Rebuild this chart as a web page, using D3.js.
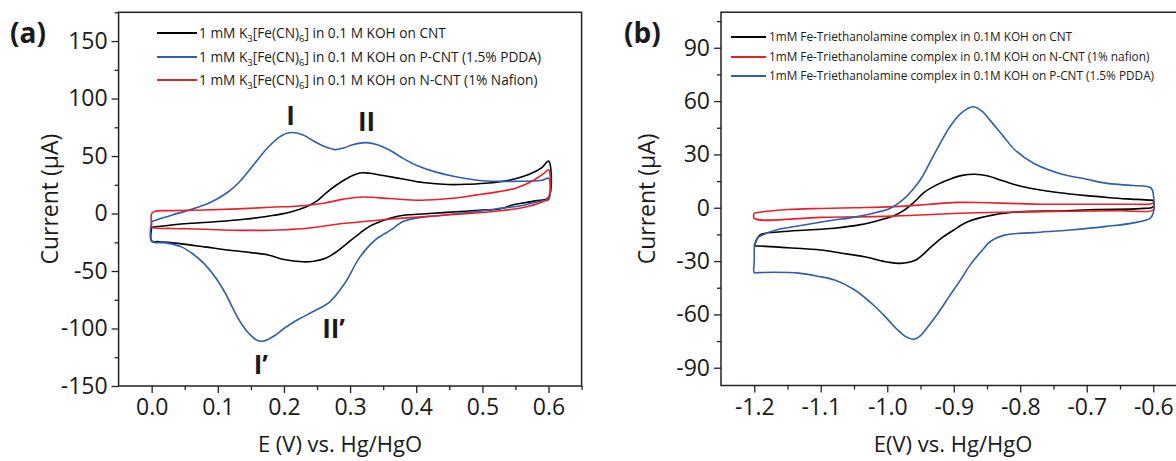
<!DOCTYPE html>
<html><head><meta charset="utf-8">
<script src="https://cdn.jsdelivr.net/npm/d3@7"></script>
<style>
body{margin:0;background:#fff}
svg{display:block}
text{font-family:"Open Sans","Noto Sans",sans-serif;fill:#1a1a1a}
</style>
</head><body>
<svg id="c" width="1176" height="461"></svg>
<script>
// ---------- Panel (a) data: [E (V), I (µA)] ----------
const aCNT = [[0.0,-12],[0.03,-10],[0.06,-8.5],[0.1,-7],[0.14,-5],[0.18,-2],[0.21,1.4],[0.233,5.7],[0.25,11],[0.263,17.6],[0.28,25],[0.3,32],[0.315,35.3],[0.33,35],[0.35,33],[0.38,30],[0.41,27],[0.448,25.2],[0.48,25.5],[0.51,26.5],[0.54,29],[0.57,34],[0.59,40],[0.6,45.7],
  [0.6,14],[0.58,11],[0.55,8],[0.523,3.7],[0.5,3],[0.46,1.5],[0.42,0],[0.39,-1],[0.372,-2.3],[0.35,-6],[0.33,-11],[0.315,-17],[0.292,-27.6],[0.275,-35],[0.263,-39],[0.245,-41.5],[0.228,-42],[0.2,-40],[0.176,-36],[0.15,-34],[0.118,-32],[0.08,-29],[0.04,-26],[0.01,-24.5],[0.0,-24],[0.0,-12]];
const aPCNT = [[0.0,-7],[0.03,-1.5],[0.06,3.6],[0.09,10],[0.115,18.5],[0.135,29],[0.155,43],[0.175,57],[0.193,66.5],[0.21,70.4],[0.228,68.5],[0.248,62],[0.265,57.5],[0.277,55.6],[0.29,57],[0.305,60],[0.324,61.7],[0.34,60],[0.36,55],[0.38,48],[0.4,42],[0.43,36],[0.46,32],[0.5,28.5],[0.55,28],[0.59,29],[0.6,30.6],
  [0.6,12],[0.59,11],[0.56,7],[0.52,4],[0.48,1],[0.44,-1.5],[0.4,-4],[0.38,-7],[0.361,-14.5],[0.338,-23],[0.315,-37.7],[0.292,-60.6],[0.269,-77],[0.245,-85],[0.222,-92],[0.2,-100],[0.185,-106.5],[0.17,-110.8],[0.16,-110.5],[0.148,-105],[0.137,-97],[0.125,-85],[0.112,-70],[0.097,-56],[0.08,-44],[0.062,-35],[0.045,-29],[0.022,-25.5],[0.0,-24],[0.0,-7]];
const aNCNT = [[0.0,-10],[0.0,0],[0.005,2],[0.03,2.5],[0.08,3],[0.13,4],[0.18,5.5],[0.222,6.6],[0.26,9],[0.29,12.5],[0.32,14.4],[0.36,13],[0.407,11.5],[0.45,13],[0.49,16],[0.523,18.8],[0.55,22],[0.575,28],[0.593,35],[0.6,38],
  [0.6,14],[0.59,10],[0.56,5],[0.52,2],[0.48,0],[0.43,-2],[0.38,-4],[0.33,-6.5],[0.292,-8.5],[0.26,-11],[0.22,-13.5],[0.18,-14.5],[0.12,-14.5],[0.07,-13.5],[0.03,-13],[0.0,-12],[0.0,-10]];

// ---------- Panel (b) data ----------
const bCNT = [[-1.2,-21.5],[-1.195,-17],[-1.19,-15],[-1.16,-13.5],[-1.12,-12.5],[-1.08,-11.5],[-1.04,-9.5],[-1.012,-7],[-0.99,-4.5],[-0.975,-1.5],[-0.96,3],[-0.945,8.5],[-0.925,13],[-0.905,16.2],[-0.887,18.2],[-0.868,18.8],[-0.85,18],[-0.825,15],[-0.796,11.8],[-0.77,10],[-0.741,8.4],[-0.7,6.8],[-0.669,5.8],[-0.64,5],[-0.606,4.3],[-0.6,4],
  [-0.6,0.6],[-0.62,-0.5],[-0.686,-1],[-0.74,-1.8],[-0.796,-2.2],[-0.84,-4],[-0.879,-7.9],[-0.9,-12.5],[-0.918,-17],[-0.934,-22],[-0.957,-29.4],[-0.981,-31.3],[-1.0,-30.5],[-1.034,-27.6],[-1.07,-25.5],[-1.1,-23.8],[-1.15,-22.5],[-1.194,-21.5],[-1.2,-21.5]];
const bNCNT = [[-1.2,-3],[-1.18,-2],[-1.15,-1],[-1.1,-0.4],[-1.05,0],[-0.99,0.6],[-0.94,1.8],[-0.895,3],[-0.85,2.8],[-0.8,2.3],[-0.769,2],[-0.7,2],[-0.65,2],[-0.606,2],[-0.6,2.5],
  [-0.6,-1.3],[-0.65,-1.6],[-0.769,-2.2],[-0.879,-3],[-0.99,-4.7],[-1.1,-5.4],[-1.2,-6],[-1.2,-3]];
const bPCNT = [[-1.2,-22],[-1.195,-17],[-1.188,-15.4],[-1.167,-12.5],[-1.13,-10],[-1.09,-7.5],[-1.045,-5],[-1.015,-2.5],[-0.996,-0.4],[-0.978,4],[-0.962,10],[-0.948,17],[-0.934,26.8],[-0.92,36.5],[-0.905,46],[-0.888,53.5],[-0.871,56.8],[-0.858,54.5],[-0.845,49],[-0.825,40],[-0.808,32.5],[-0.78,25],[-0.741,19.3],[-0.7,16],[-0.669,13.7],[-0.63,12.5],[-0.61,12],[-0.603,11],
  [-0.6,8],[-0.6,-3],[-0.605,-6],[-0.63,-8.5],[-0.67,-10.5],[-0.724,-12.5],[-0.78,-14],[-0.824,-15.4],[-0.845,-19],[-0.857,-23.8],[-0.875,-32],[-0.89,-40.7],[-0.907,-50],[-0.924,-59.5],[-0.94,-67.5],[-0.95,-72],[-0.96,-74],[-0.972,-72.5],[-0.985,-68.5],[-1.0,-62.5],[-1.02,-55],[-1.05,-46],[-1.079,-40.7],[-1.105,-38.5],[-1.133,-36.8],[-1.17,-36.3],[-1.194,-36.5],[-1.2,-36.5],[-1.2,-30],[-1.2,-22]];

// ---------- ticks & labels ----------
const aXTicks = [0,0.1,0.2,0.3,0.4,0.5,0.6];
const aXMinor = [0.05,0.15,0.25,0.35,0.45,0.55,0.65];
const aYTicks = [-150,-100,-50,0,50,100,150];
const aYMinor = [-125,-75,-25,25,75,125,175];
const bXTicks = [-1.2,-1.1,-1.0,-0.9,-0.8,-0.7,-0.6];
const bXMinor = [-1.15,-1.05,-0.95,-0.85,-0.75,-0.65];
const bYTicks = [-90,-60,-30,0,30,60,90];
const bYMinor = [-75,-45,-15,15,45,75,105];

const aLegend = [
  [["1 mM K"],["3","sub"],["[Fe(CN)"],["6","sub"],["] in 0.1 M KOH on CNT"]],
  [["1 mM K"],["3","sub"],["[Fe(CN)"],["6","sub"],["] in 0.1 M KOH on P-CNT (1.5% PDDA)"]],
  [["1 mM K"],["3","sub"],["[Fe(CN)"],["6","sub"],["] in 0.1 M KOH on N-CNT (1% Nafion)"]]
];
const bLegend = [
  "1mM Fe-Triethanolamine complex in 0.1M KOH on CNT",
  "1mM Fe-Triethanolamine complex in 0.1M KOH on N-CNT (1% nafion)",
  "1mM Fe-Triethanolamine complex in 0.1M KOH on P-CNT (1.5% PDDA)"
];
const peakLabels = [["I",0.21,85],["II",0.325,80],["II\u2019",0.275,-100],["I\u2019",0.165,-132]];

const BLACK="#000000", BLUE="#2f5eab", RED="#e8202a";

const svg = d3.select("#c");

function panel(cfg){
  const g = svg.append("g");
  const x = d3.scaleLinear().domain(cfg.xd).range(cfg.xr);
  const y = d3.scaleLinear().domain(cfg.yd).range(cfg.yr);
  g.append("g").attr("transform",`translate(0,${cfg.yr[0]})`)
    .call(d3.axisBottom(x).tickValues(cfg.xt).tickFormat(d=>d.toFixed(1)).tickSize(7).tickSizeOuter(0).tickPadding(6));
  g.append("g").attr("transform",`translate(0,${cfg.yr[0]})`)
    .call(d3.axisBottom(x).tickValues(cfg.xm).tickFormat("").tickSize(4).tickSizeOuter(0));
  g.append("g").attr("transform",`translate(${cfg.xr[0]},0)`)
    .call(d3.axisLeft(y).tickValues(cfg.yt).tickFormat(d=>String(d)).tickSize(7).tickSizeOuter(0).tickPadding(4));
  g.append("g").attr("transform",`translate(${cfg.xr[0]},0)`)
    .call(d3.axisLeft(y).tickValues(cfg.ym).tickFormat("").tickSize(4).tickSizeOuter(0));
  g.selectAll(".domain").remove();
  g.selectAll(".tick line").attr("stroke","#222").attr("stroke-width",1.3);
  g.selectAll(".tick text").attr("font-size",23).attr("font-family","'Open Sans',sans-serif").attr("fill","#2a2a2a").attr("font-weight",400);
  g.append("rect").attr("x",cfg.xr[0]).attr("y",cfg.yr[1]).attr("width",cfg.xr[1]-cfg.xr[0]).attr("height",cfg.yr[0]-cfg.yr[1])
    .attr("fill","none").attr("stroke","#222").attr("stroke-width",1.5);
  const line = d3.line().x(d=>x(d[0])).y(d=>y(d[1])).curve(d3.curveCatmullRom.alpha(0.5));
  cfg.series.forEach(s=>{
    g.append("path").datum(s.data).attr("d",line).attr("fill","none").attr("stroke",s.color).attr("stroke-width",1.6).attr("stroke-linejoin","round");
  });
  g.append("text").attr("transform",`translate(${cfg.ytx},${(cfg.yr[0]+cfg.yr[1])/2}) rotate(-90)`)
    .attr("text-anchor","middle").attr("dy","0.35em").attr("font-size",23).attr("font-weight",400).attr("fill","#2a2a2a").text("Current (\u00b5A)");
  g.append("text").attr("x",cfg.xtx).attr("y",452).attr("text-anchor","middle").attr("font-size",22).attr("font-weight",400).attr("fill","#2a2a2a").text(cfg.xtitle);
  g.append("text").attr("x",cfg.lx).attr("y",43).attr("font-size",28).attr("font-weight",700).attr("fill","#000").text(cfg.label);
  return {g,x,y};
}

const A = panel({xd:[-0.05,0.65], xr:[118.6,581.6], yd:[-150,175], yr:[386,12.3],
  xt:aXTicks, xm:aXMinor, yt:aYTicks, ym:aYMinor, ytx:50, xtx:340, xtitle:"E (V) vs. Hg/HgO", lx:10, label:"(a)",
  series:[{data:aCNT,color:BLACK},{data:aPCNT,color:BLUE},{data:aNCNT,color:RED}]});
const B = panel({xd:[-1.25,-0.55], xr:[721,1186.5], yd:[-100,110], yr:[385.5,12.2],
  xt:bXTicks, xm:bXMinor, yt:bYTicks, ym:bYMinor, ytx:647, xtx:953, xtitle:"E(V) vs. Hg/HgO", lx:624, label:"(b)",
  series:[{data:bCNT,color:BLACK},{data:bNCNT,color:RED},{data:bPCNT,color:BLUE}]});

// legend (a)
const aCols=[BLACK,BLUE,RED], aRows=[33,57,80];
aLegend.forEach((segs,i)=>{
  A.g.append("line").attr("x1",157).attr("x2",197).attr("y1",aRows[i]).attr("y2",aRows[i]).attr("stroke",aCols[i]).attr("stroke-width",2);
  const t = A.g.append("text").attr("x",199).attr("y",aRows[i]).attr("dy","0.35em").attr("font-size",13.7).attr("fill","#222");
  segs.forEach(s=>{
    const ts=t.append("tspan").text(s[0]);
    if(s[1]==="sub"){ts.attr("font-size",9.5).attr("dy",4);}
    else if(t.selectAll("tspan").size()>1){ts.attr("dy",-4);}
  });
});
// legend (b)
const bCols=[BLACK,RED,BLUE], bRows=[37,57,76];
bLegend.forEach((s,i)=>{
  B.g.append("line").attr("x1",731).attr("x2",766).attr("y1",bRows[i]).attr("y2",bRows[i]).attr("stroke",bCols[i]).attr("stroke-width",2);
  B.g.append("text").attr("x",769).attr("y",bRows[i]).attr("dy","0.35em").attr("font-size",11.8).attr("fill","#222").text(s);
});
// peak labels (a)
peakLabels.forEach(p=>{
  A.g.append("text").attr("x",A.x(p[1])).attr("y",A.y(p[2])).attr("text-anchor","middle").attr("dy","0.35em")
    .attr("font-size",26).attr("font-weight",700).attr("fill","#000").text(p[0]);
});
</script>
</body></html>
